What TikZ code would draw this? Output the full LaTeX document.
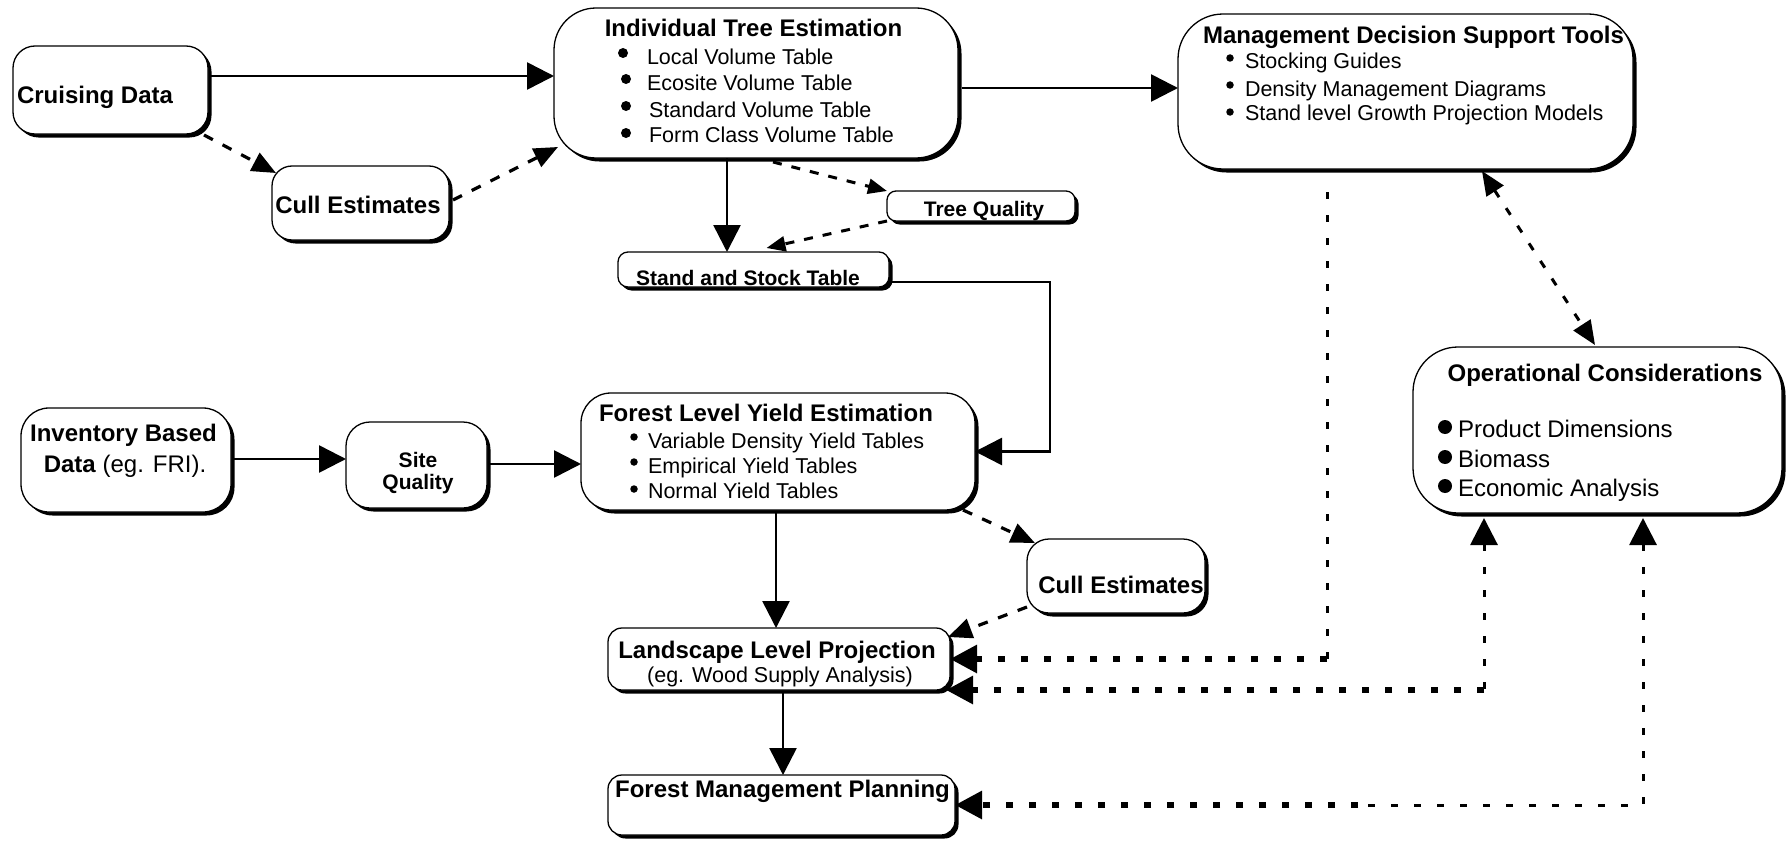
\documentclass[tikz,border=0pt]{standalone}
\usepackage{fontspec}
\setmainfont{Liberation Sans}
\usetikzlibrary{arrows.meta,shadows,calc}

\newcommand\myTitle{\fontsize{24}{28}\selectfont\bfseries}
\newcommand\myReg{\fontsize{24}{28}\selectfont}
\newcommand\myItem{\fontsize{21.5}{26}\selectfont}
\newcommand\mySmall{\fontsize{21}{25}\selectfont\bfseries}

\tikzset{
  box/.style={draw=black, line width=1.3pt, fill=white, rounded corners=#1,
    drop shadow={shadow xshift=3.5pt, shadow yshift=-3.5pt, fill=black, opacity=1},
    inner sep=0pt, outer sep=0pt},
  box/.default=20pt,
  txt/.style={inner sep=0pt, outer sep=0pt},
  bigtip/.tip={Triangle[length=27pt,width=27pt]},
  midtip/.tip={Triangle[length=24pt,width=20pt]},
  smalltip/.tip={Triangle[length=19pt,width=15pt]},
  conn/.style={line width=2.6pt, -bigtip},
  dconn/.style={line width=3.2pt, dash pattern=on 10pt off 11pt, -midtip},
  sdconn/.style={line width=3pt, dash pattern=on 9pt off 10pt, -smalltip},
  vdash/.style={line width=3pt, dash pattern=on 7pt off 16pt},
  hdot/.style={line width=6pt, dash pattern=on 7pt off 16pt},
  mdash/.style={line width=3pt, dash pattern=on 8pt off 13pt},
  obul/.style={circle, fill=black, inner sep=0pt, minimum size=14pt},
  ibul/.style={circle, fill=black, inner sep=0pt, minimum size=10pt},
  sbul/.style={circle, fill=black, inner sep=0pt, minimum size=7.5pt},
}

\begin{document}
\begin{tikzpicture}[x=1pt,y=-1pt]
\useasboundingbox (0,0) rectangle (1791,843);

% ---------- boxes ----------
\node[box=22pt, minimum width=195pt, minimum height=88pt] (cruise) at (110.5,90) {};
\node[box=20pt, minimum width=177pt, minimum height=74pt] (cull1) at (360.5,203) {};
\node[box=42pt, minimum width=404pt, minimum height=150pt] (ite) at (756,83) {};
\node[box=9pt, minimum width=188pt, minimum height=30pt] (tq) at (981,206) {};
\node[box=10pt, minimum width=271pt, minimum height=35pt] (stand) at (753.5,269.5) {};
\node[box=45pt, minimum width=455pt, minimum height=155pt] (mdst) at (1405.5,91.5) {};
\node[box=28pt, minimum width=210pt, minimum height=104pt] (inv) at (126,460) {};
\node[box=24pt, minimum width=141pt, minimum height=86pt] (site) at (416.5,465) {};
\node[box=30pt, minimum width=394pt, minimum height=117pt] (forest) at (778,451.5) {};
\node[box=45pt, minimum width=369pt, minimum height=166pt] (op) at (1597.5,430) {};
\node[box=22pt, minimum width=178pt, minimum height=74pt] (cull2) at (1116,576) {};
\node[box=14pt, minimum width=342pt, minimum height=62pt] (land) at (779,659) {};
\node[box=14pt, minimum width=347pt, minimum height=60pt] (fmp) at (781.5,805) {};

% ---------- texts ----------
\node[txt, anchor=base west, font=\myTitle] (cruise-t) at (17,103) {Cruising Data};
\node[txt, anchor=base, font=\myTitle] (cull1-t) at (358,213) {Cull Estimates};

\node[txt, anchor=base, font=\myTitle] (ite-t) at (753.5,37) {Individual Tree Estimation};
\node[ibul] (ite-b1) at (623,53) {};
\node[ibul] (ite-b2) at (626,79) {};
\node[ibul] (ite-b3) at (626,106) {};
\node[ibul] (ite-b4) at (626,133) {};
\node[txt, anchor=base west, font=\myItem] (ite-i1) at (647,64) {Local Volume Table};
\node[txt, anchor=base west, font=\myItem] (ite-i2) at (647,91) {Ecosite Volume Table};
\node[txt, anchor=base west, font=\myItem] (ite-i3) at (649,117) {Standard Volume Table};
\node[txt, anchor=base west, font=\myItem] (ite-i4) at (649,142) {Form Class Volume Table};

\node[txt, anchor=base, font=\mySmall] (tq-t) at (984,216) {Tree Quality};
\node[txt, anchor=base, font=\mySmall] (stand-t) at (748,285) {Stand and Stock Table};

\node[txt, anchor=base, font=\myTitle] (mdst-t) at (1413.5,43.5) {Management Decision Support Tools};
\node[sbul] (mdst-b1) at (1230,58) {};
\node[sbul] (mdst-b2) at (1230,85) {};
\node[sbul] (mdst-b3) at (1230,112) {};
\node[txt, anchor=base west, font=\myItem] (mdst-i1) at (1245,68) {Stocking Guides};
\node[txt, anchor=base west, font=\myItem] (mdst-i2) at (1245,96) {Density Management Diagrams};
\node[txt, anchor=base west, font=\myItem] (mdst-i3) at (1245,120) {Stand level Growth Projection Models};

\node[txt, anchor=base, font=\myTitle] (inv-t1) at (123.5,441) {Inventory Based};
\node[txt, anchor=base, font=\myReg] (inv-t2) at (125,472) {\textbf{Data} (eg. FRI).};

\node[txt, anchor=base, font=\mySmall] (site-t1) at (418,467) {Site};
\node[txt, anchor=base, font=\mySmall] (site-t2) at (418,489) {Quality};

\node[txt, anchor=base, font=\myTitle] (forest-t) at (766,421.5) {Forest Level Yield Estimation};
\node[sbul] (forest-b1) at (634,437) {};
\node[sbul] (forest-b2) at (634,462) {};
\node[sbul] (forest-b3) at (634,489) {};
\node[txt, anchor=base west, font=\myItem] (forest-i1) at (648,448) {Variable Density Yield Tables};
\node[txt, anchor=base west, font=\myItem] (forest-i2) at (648,473) {Empirical Yield Tables};
\node[txt, anchor=base west, font=\myItem] (forest-i3) at (648,498) {Normal Yield Tables};

\node[txt, anchor=base, font=\myTitle] (op-t) at (1605,381.5) {Operational Considerations};
\node[obul] (op-b1) at (1445,427) {};
\node[obul] (op-b2) at (1445,457) {};
\node[obul] (op-b3) at (1445,486) {};
\node[txt, anchor=base west, font=\myReg] (op-i1) at (1458,437) {Product Dimensions};
\node[txt, anchor=base west, font=\myReg] (op-i2) at (1458,467) {Biomass};
\node[txt, anchor=base west, font=\myReg] (op-i3) at (1458,496) {Economic Analysis};

\node[txt, anchor=base, font=\myTitle] (cull2-t) at (1121,593) {Cull Estimates};

\node[txt, anchor=base, font=\myTitle] (land-t1) at (777,658) {Landscape Level Projection};
\node[txt, anchor=base, font=\myItem] (land-t2) at (780,682) {(eg. Wood Supply Analysis)};

\node[txt, anchor=base, font=\myTitle] (fmp-t) at (782.5,797) {Forest Management Planning};

% ---------- connectors ----------
% solid
\coordinate (a1) at ($(cruise.east)+(3,-14)$);
\draw[conn] (a1) -- (a1 -| ite.west);
\coordinate (a2) at ($(ite.south)+(-29,0)$);
\draw[conn] (a2) -- (a2 |- stand.north);
\coordinate (a3) at ($(ite.east)+(4,5)$);
\draw[conn] (a3) -- (a3 -| mdst.west);
\draw[conn] ($(stand.east)+(3,12.5)$) -- ++(158,0) |- (forest.east);
\coordinate (a4) at ($(inv.east)+(3,-1)$);
\draw[conn] (a4) -- (a4 -| site.west);
\coordinate (a5) at ($(site.east)+(3,-1)$);
\draw[conn] (a5) -- (a5 -| forest.west);
\coordinate (a6) at ($(forest.south)+(-2,2)$);
\draw[conn] (a6) -- (a6 |- land.north);
\coordinate (a7) at ($(land.south)+(4,2)$);
\draw[conn] (a7) -- (a7 |- fmp.north);

% dashed
\draw[dconn] ($(cruise.south east)+(-4,1)$) -- ($(cull1.north west)+(4,7)$);
\draw[dconn] ($(cull1.east)+(4,-3)$) -- ($(ite.south west)+(4,-11)$);
\draw[sdconn] ($(ite.south)+(17,4)$) -- (tq.north west);
\draw[sdconn] (tq.south west) -- ($(stand.north)+(13,-4)$);
\draw[dconn] ($(forest.south east)+(-12,0)$) -- ($(cull2.north west)+(8,4)$);
\draw[dconn] ($(cull2.south west)+(0,-6)$) -- ($(land.north east)+(-2,9)$);
\draw[mdash, midtip-midtip] ($(mdst.south)+(76.5,2)$) -- ($(op.north)+(-2.5,-2)$);

% dotted feedback lines
\coordinate (m1) at ($(mdst.south)+(-78.5,23)$);
\coordinate (m2) at (m1 |- land.east);
\draw[vdash] (m1) -- (m2);
\draw[hdot, -bigtip] (m2) -- (land.east);

\coordinate (o1) at ($(op.south)+(-113.5,5)$);
\coordinate (o2) at (o1 |- land.south east);
\draw[vdash, bigtip-] (o1) -- (o2);
\draw[hdot, -bigtip] (o2) -- ($(land.south east)+(-4,0)$);

\coordinate (p1) at ($(op.south)+(45.5,5)$);
\coordinate (p2) at (p1 |- fmp.east);
\coordinate (p3) at ($(p2)+(-285,0)$);
\draw[vdash, bigtip-] (p1) -- (p2) -- (p3);
\draw[hdot, -bigtip] (p3) -- (fmp.east);
\end{tikzpicture}
\end{document}
